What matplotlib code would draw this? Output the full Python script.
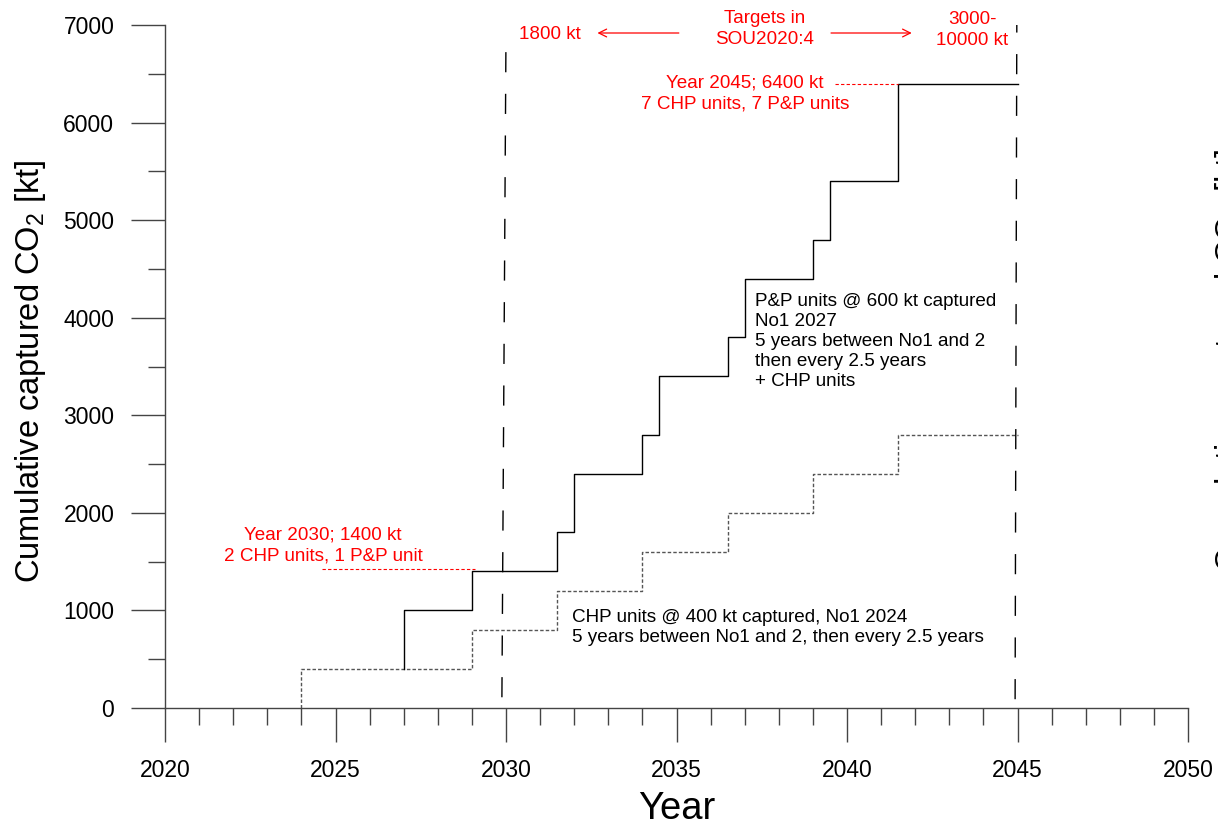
import matplotlib
matplotlib.use("Agg")
import matplotlib.pyplot as plt
from matplotlib.ticker import MultipleLocator

plt.rcParams['font.family'] = ['Liberation Sans', 'DejaVu Sans']
plt.rcParams['mathtext.fontset'] = 'custom'
plt.rcParams['mathtext.rm'] = 'Liberation Sans'
plt.rcParams['mathtext.it'] = 'Liberation Sans:italic'

# CHP units: 400 kt each, first in 2024, second 5 years later, then every 2.5 years
chp_years = [2024, 2024, 2029, 2031.5, 2034, 2036.5, 2039, 2041.5, 2045]
chp_kt = [0, 400, 800, 1200, 1600, 2000, 2400, 2800, 2800]

# P&P units (600 kt each) on top of the CHP units
total_years = [2027, 2027, 2029, 2031.5, 2032, 2034, 2034.5, 2036.5, 2037,
               2039, 2039.5, 2041.5, 2045]
total_kt = [400, 1000, 1400, 1800, 2400, 2800, 3400, 3800, 4400,
            4800, 5400, 6400, 6400]

# target years from SOU2020:4 (dashed markers, drawn slightly off-vertical)
target_2030_x = [2029.88, 2030.0]
target_2030_y = [110, 6920]
target_2045_x = [2044.93, 2044.98]
target_2045_y = [90, 7050]

ylabel = r'Cumulative captured CO$_\mathregular{2}$ [kt]'

fig = plt.figure(figsize=(12.18, 8.25), dpi=100)
ax = fig.add_axes([165 / 1218, 1 - 708 / 825, (1188 - 165) / 1218, (708 - 25) / 825])

ax.step(chp_years, chp_kt, where='post', color='#555555', lw=1.0,
        linestyle=(0, (2.5, 1.5)))
ax.step(total_years, total_kt, where='post', color='black', lw=1.0)

dash = (0, (14.5, 15.5))
ax.plot(target_2030_x, target_2030_y, color='black', lw=1.0, linestyle=dash)
ax.plot(target_2045_x, target_2045_y, color='black', lw=1.0, linestyle=dash)

# red call-out lines to the 2030 and 2045 totals
ax.plot([2024.6, 2029.1], [1420, 1420], color='red', lw=0.8, linestyle=(0, (3, 2)))
ax.plot([2039.65, 2041.5], [6400, 6400], color='red', lw=0.8, linestyle=(0, (3, 2)))

red = dict(color='red', fontsize=13.6, ha='center', va='center', linespacing=1.3)
ax.text(2024.63, 1670, 'Year 2030; 1400 kt\n2 CHP units, 1 P&P unit', **red)
ax.text(2037.0, 6300, 'Year 2045; 6400 kt\n7 CHP units, 7 P&P units', **red)
ax.text(2031.3, 6900, '1800 kt', **red)
ax.text(2037.57, 6960, 'Targets in\nSOU2020:4', **red)
ax.text(2043.67, 6950, '3000-\n10000 kt', **red)

arrow = dict(arrowstyle='->', color='red', lw=0.9, mutation_scale=14)
ax.annotate('', xy=(2032.6, 6918), xytext=(2035.15, 6918), arrowprops=arrow,
            annotation_clip=False)
ax.annotate('', xy=(2041.98, 6918), xytext=(2039.45, 6918), arrowprops=arrow,
            annotation_clip=False)

ax.text(2037.3, 3761,
        'P&P units @ 600 kt captured\nNo1 2027\n5 years between No1 and 2\n'
        'then every 2.5 years\n+ CHP units',
        fontsize=13.6, ha='left', va='center', linespacing=1.23)
ax.text(2031.94, 830,
        'CHP units @ 400 kt captured, No1 2024\n'
        '5 years between No1 and 2, then every 2.5 years',
        fontsize=13.6, ha='left', va='center', linespacing=1.23)

ax.set_xlim(2020, 2050)
ax.set_ylim(0, 7000)
ax.xaxis.set_major_locator(MultipleLocator(5))
ax.xaxis.set_minor_locator(MultipleLocator(1))
ax.yaxis.set_major_locator(MultipleLocator(1000))
ax.yaxis.set_minor_locator(MultipleLocator(500))

for s in ['top', 'right']:
    ax.spines[s].set_visible(False)
for s in ['left', 'bottom']:
    ax.spines[s].set_color('#444444')
    ax.spines[s].set_linewidth(1.0)

ax.tick_params(which='both', direction='out', color='#444444', width=1.0)
ax.tick_params(which='major', length=24.5, labelsize=16.5)
ax.tick_params(which='minor', length=12.5)
ax.tick_params(axis='x', which='major', pad=12)
ax.tick_params(axis='y', which='major', pad=12)

ax.set_xlabel('Year', fontsize=27.5, labelpad=7)

# y label placed on the figure so it can sit below the axes centre
fig.text(31 / 1218, 1 - 371 / 825, ylabel, fontsize=23.5, rotation=90,
         ha='center', va='center')

# second axis label sits mostly beyond the right edge of the figure
fig.text(1213 / 1218, 1 - 360 / 825, ylabel,
         fontsize=23.5, rotation=90, ha='left', va='center')

fig.savefig('out.png', dpi=100)
